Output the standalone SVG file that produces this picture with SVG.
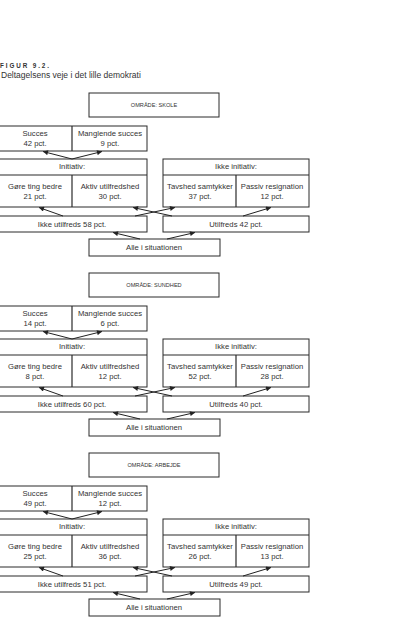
<svg xmlns="http://www.w3.org/2000/svg" width="416" height="640" viewBox="0 0 416 640">
<defs>
<marker id="ah" viewBox="0 0 10 10" refX="10" refY="5" markerWidth="6" markerHeight="5" markerUnits="userSpaceOnUse" orient="auto">
<path d="M0,0 L10,5 L0,10 z" fill="#222"/>
</marker>
<style>
rect{fill:#fff;stroke:#2a2a2a;stroke-width:1}
.d{stroke:#2a2a2a;stroke-width:1.2;fill:none}
text{font-family:"Liberation Sans",Arial,sans-serif;fill:#333;text-anchor:middle;font-size:7.7px;-webkit-font-smoothing:antialiased}
.o{font-size:5.6px}
.c line{stroke:#222;stroke-width:1;marker-end:url(#ah)}
</style>
</defs>
<rect x="0" y="0" width="416" height="640" style="stroke:none;fill:#fff"/>
<text x="0" y="67.5" style="text-anchor:start;font-size:6.3px;font-weight:bold;letter-spacing:1.9px">FIGUR 9.2.</text>
<text x="1" y="78" style="text-anchor:start;font-size:8.5px">Deltagelsens veje i det lille demokrati</text>

<g id="sec-skole">
<g id="omr1"><rect x="89" y="93" width="130" height="24"/><text class="o" x="154" y="107">OMRÅDE: SKOLE</text></g>
<g id="succ1"><rect x="-2" y="126" width="149" height="25"/><line class="d" x1="72" y1="126" x2="72" y2="151"/>
<text x="35" y="136">Succes</text><text x="35" y="146">42 pct.</text>
<text x="110" y="136">Manglende succes</text><text x="110" y="146">9 pct.</text></g>
<g id="init1"><rect x="-2" y="159" width="149" height="48"/><line class="d" x1="-2" y1="175" x2="147" y2="175"/><line class="d" x1="72" y1="175" x2="72" y2="207"/>
<text x="72" y="169">Initiativ:</text>
<text x="35" y="189">Gøre ting bedre</text><text x="35" y="199">21 pct.</text>
<text x="110" y="189">Aktiv utilfredshed</text><text x="110" y="199">30 pct.</text></g>
<g id="ikkeinit1"><rect x="163" y="159" width="146" height="48"/><line class="d" x1="163" y1="175" x2="309" y2="175"/><line class="d" x1="236" y1="175" x2="236" y2="207"/>
<text x="236" y="169">Ikke initiativ:</text>
<text x="200" y="189">Tavshed samtykker</text><text x="200" y="199">37 pct.</text>
<text x="272" y="189">Passiv resignation</text><text x="272" y="199">12 pct.</text></g>
<g id="ikkeutil1"><rect x="-2" y="216" width="149" height="16"/><text x="72" y="227">Ikke utilfreds 58 pct.</text></g>
<g id="util1"><rect x="163" y="216" width="146" height="16"/><text x="236" y="227">Utilfreds 42 pct.</text></g>
<g id="alle1"><rect x="89" y="239" width="131" height="17"/><text x="154" y="250">Alle i situationen</text></g>
<g id="conn1" class="c">
<line x1="72" y1="159" x2="43" y2="151.5"/><line x1="72" y1="159" x2="102" y2="151.5"/>
<line x1="63" y1="216" x2="39" y2="207.5"/><line x1="135" y1="216" x2="175" y2="207.5"/>
<line x1="172" y1="216" x2="133" y2="207.5"/><line x1="243" y1="216" x2="271" y2="207.5"/>
<line x1="140" y1="239" x2="113" y2="232.5"/><line x1="167" y1="239" x2="195" y2="232.5"/>
</g>
</g>

<g id="sec-sundhed" transform="translate(0,180)">
<g id="omr2"><rect x="89" y="93" width="130" height="24"/><text class="o" x="154" y="107">OMRÅDE: SUNDHED</text></g>
<g id="succ2"><rect x="-2" y="126" width="149" height="25"/><line class="d" x1="72" y1="126" x2="72" y2="151"/>
<text x="35" y="136">Succes</text><text x="35" y="146">14 pct.</text>
<text x="110" y="136">Manglende succes</text><text x="110" y="146">6 pct.</text></g>
<g id="init2"><rect x="-2" y="159" width="149" height="48"/><line class="d" x1="-2" y1="175" x2="147" y2="175"/><line class="d" x1="72" y1="175" x2="72" y2="207"/>
<text x="72" y="169">Initiativ:</text>
<text x="35" y="189">Gøre ting bedre</text><text x="35" y="199">8 pct.</text>
<text x="110" y="189">Aktiv utilfredshed</text><text x="110" y="199">12 pct.</text></g>
<g id="ikkeinit2"><rect x="163" y="159" width="146" height="48"/><line class="d" x1="163" y1="175" x2="309" y2="175"/><line class="d" x1="236" y1="175" x2="236" y2="207"/>
<text x="236" y="169">Ikke initiativ:</text>
<text x="200" y="189">Tavshed samtykker</text><text x="200" y="199">52 pct.</text>
<text x="272" y="189">Passiv resignation</text><text x="272" y="199">28 pct.</text></g>
<g id="ikkeutil2"><rect x="-2" y="216" width="149" height="16"/><text x="72" y="227">Ikke utilfreds 60 pct.</text></g>
<g id="util2"><rect x="163" y="216" width="146" height="16"/><text x="236" y="227">Utilfreds 40 pct.</text></g>
<g id="alle2"><rect x="89" y="239" width="131" height="17"/><text x="154" y="250">Alle i situationen</text></g>
<g id="conn2" class="c">
<line x1="72" y1="159" x2="43" y2="151.5"/><line x1="72" y1="159" x2="102" y2="151.5"/>
<line x1="63" y1="216" x2="39" y2="207.5"/><line x1="135" y1="216" x2="175" y2="207.5"/>
<line x1="172" y1="216" x2="133" y2="207.5"/><line x1="243" y1="216" x2="271" y2="207.5"/>
<line x1="140" y1="239" x2="113" y2="232.5"/><line x1="167" y1="239" x2="195" y2="232.5"/>
</g>
</g>

<g id="sec-arbejde" transform="translate(0,360)">
<g id="omr3"><rect x="89" y="93" width="130" height="24"/><text class="o" x="154" y="107">OMRÅDE: ARBEJDE</text></g>
<g id="succ3"><rect x="-2" y="126" width="149" height="25"/><line class="d" x1="72" y1="126" x2="72" y2="151"/>
<text x="35" y="136">Succes</text><text x="35" y="146">49 pct.</text>
<text x="110" y="136">Manglende succes</text><text x="110" y="146">12 pct.</text></g>
<g id="init3"><rect x="-2" y="159" width="149" height="48"/><line class="d" x1="-2" y1="175" x2="147" y2="175"/><line class="d" x1="72" y1="175" x2="72" y2="207"/>
<text x="72" y="169">Initiativ:</text>
<text x="35" y="189">Gøre ting bedre</text><text x="35" y="199">25 pct.</text>
<text x="110" y="189">Aktiv utilfredshed</text><text x="110" y="199">36 pct.</text></g>
<g id="ikkeinit3"><rect x="163" y="159" width="146" height="48"/><line class="d" x1="163" y1="175" x2="309" y2="175"/><line class="d" x1="236" y1="175" x2="236" y2="207"/>
<text x="236" y="169">Ikke initiativ:</text>
<text x="200" y="189">Tavshed samtykker</text><text x="200" y="199">26 pct.</text>
<text x="272" y="189">Passiv resignation</text><text x="272" y="199">13 pct.</text></g>
<g id="ikkeutil3"><rect x="-2" y="216" width="149" height="16"/><text x="72" y="227">Ikke utilfreds 51 pct.</text></g>
<g id="util3"><rect x="163" y="216" width="146" height="16"/><text x="236" y="227">Utilfreds 49 pct.</text></g>
<g id="alle3"><rect x="89" y="239" width="131" height="17"/><text x="154" y="250">Alle i situationen</text></g>
<g id="conn3" class="c">
<line x1="72" y1="159" x2="43" y2="151.5"/><line x1="72" y1="159" x2="102" y2="151.5"/>
<line x1="63" y1="216" x2="39" y2="207.5"/><line x1="135" y1="216" x2="175" y2="207.5"/>
<line x1="172" y1="216" x2="133" y2="207.5"/><line x1="243" y1="216" x2="271" y2="207.5"/>
<line x1="140" y1="239" x2="113" y2="232.5"/><line x1="167" y1="239" x2="195" y2="232.5"/>
</g>
</g>
</svg>
